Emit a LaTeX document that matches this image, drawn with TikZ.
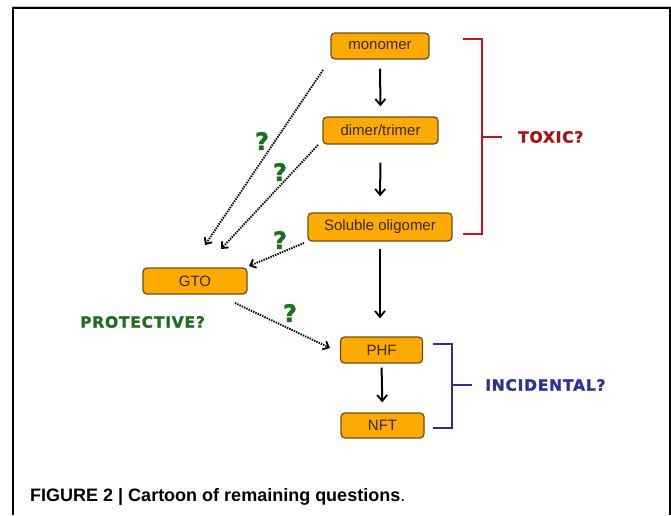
\documentclass[tikz,border=0pt]{standalone}
\usepackage{fontspec}
\setmainfont{Liberation Sans}
\newfontfamily\lblfont{DejaVu Sans Bold}[LetterSpace=5, FakeBold=1.3]
\newfontfamily\qfont{DejaVu Sans Bold}[FakeBold=1.5]
\usetikzlibrary{arrows.meta}
\definecolor{boxfill}{HTML}{FFAA00}
\definecolor{boxdraw}{HTML}{6E5014}
\definecolor{boxtext}{HTML}{3A2A08}
\definecolor{toxred}{HTML}{C0141E}
\definecolor{toxtext}{HTML}{A8101A}
\definecolor{incblue}{HTML}{2E3192}
\definecolor{protgreen}{HTML}{1E6E1E}
\tikzset{
  stagebox/.style={draw=boxdraw, fill=boxfill, rounded corners=4pt, line width=1.3pt,
    font=\fontsize{15}{17}\selectfont, text=boxtext, inner sep=0pt},
  solidarrow/.style={-{Straight Barb[length=6pt,width=10pt,line width=1.8pt]}, line width=2pt, black},
  dotarrow/.style={-{Straight Barb[length=5pt,width=9pt,line width=1.8pt]}, line width=1.9pt, black,
    dash pattern=on 1.4pt off 1.1pt},
  bracketline/.style={line width=2.6pt},
  biglabel/.style={font=\lblfont\fontsize{15.5}{17}\selectfont, inner sep=0pt, anchor=west},
  qmark/.style={font=\qfont\fontsize{24}{26}\selectfont, text=protgreen, inner sep=0pt},
}
\begin{document}
\begin{tikzpicture}[x=1pt,y=-1pt]
\useasboundingbox (0,0) rectangle (671,515);
\fill[white] (0,0) rectangle (671,515);
% frame
\draw[gray!50, line width=0.8pt] (13,6.3) -- (671,6.3);
\draw[black, line width=1.2pt] (13,515) -- (13,8) -- (670,8) -- (670,515);

% nodes
\node[stagebox, minimum width=98pt, minimum height=26pt] (monomer) at (380,46) {monomer};
\node[stagebox, minimum width=115pt, minimum height=27pt] (dimer) at (380.5,130.5) {dimer/trimer};
\node[stagebox, minimum width=144pt, minimum height=28pt] (sol) at (380,227) {Soluble oligomer};
\node[stagebox, minimum width=104pt, minimum height=26pt] (gto) at (195,281) {GTO};
\node[stagebox, minimum width=82pt, minimum height=26pt] (phf) at (381.5,350) {PHF};
\node[stagebox, minimum width=83pt, minimum height=25pt] (nft) at (382.5,425.5) {NFT};

% solid arrows
\draw[solidarrow, shorten <=9pt, shorten >=10pt] (monomer.south) -- (dimer.north);
\draw[solidarrow, shorten <=18pt, shorten >=16pt] (dimer.south) -- (sol.north);
\draw[solidarrow, shorten <=7pt, shorten >=18pt] (sol.south) -- (sol.south |- phf.north);
\draw[solidarrow, shorten <=4pt, shorten >=10pt] (phf.south) -- (nft.north);

% dotted arrows
\coordinate (d1s) at (323,70);  \coordinate (d1e) at (205,245);
\coordinate (d2s) at (318,145); \coordinate (d2e) at (221,249);
\coordinate (d3s) at (304,243); \coordinate (d3e) at (249,266);
\coordinate (d4s) at (235,303); \coordinate (d4e) at (330,348);
\draw[dotarrow] (d1s) -- (d1e);
\draw[dotarrow] (d2s) -- (d2e);
\draw[dotarrow] (d3s) -- (d3e);
\draw[dotarrow] (d4s) -- (d4e);

% question marks
\node[qmark] (q1) at (262,141) {?};
\node[qmark] (q2) at (280,172) {?};
\node[qmark] (q3) at (280,240) {?};
\node[qmark] (q4) at (290,313) {?};

% brackets
\draw[bracketline, toxred] (463,39) -- (482,39) -- (482,234) -- (463,234);
\draw[bracketline, toxred] (482,137) -- (502,137);
\draw[bracketline, incblue] (433,344) -- (452,344) -- (452,428) -- (433,428);
\draw[bracketline, incblue] (452,385) -- (472,385);

% labels
\node[biglabel, text=toxtext] (toxic) at (518,137) {TOXIC?};
\node[biglabel, text=incblue] (incid) at (485,385) {INCIDENTAL?};
\node[biglabel, text=protgreen] (prot) at (80,322) {PROTECTIVE?};

% caption
\node[anchor=base west, inner sep=0pt, font=\fontsize{18}{20}\selectfont] (caption) at (30,501)
  {\textbf{FIGURE 2 | Cartoon of remaining questions}.};
\end{tikzpicture}
\end{document}
